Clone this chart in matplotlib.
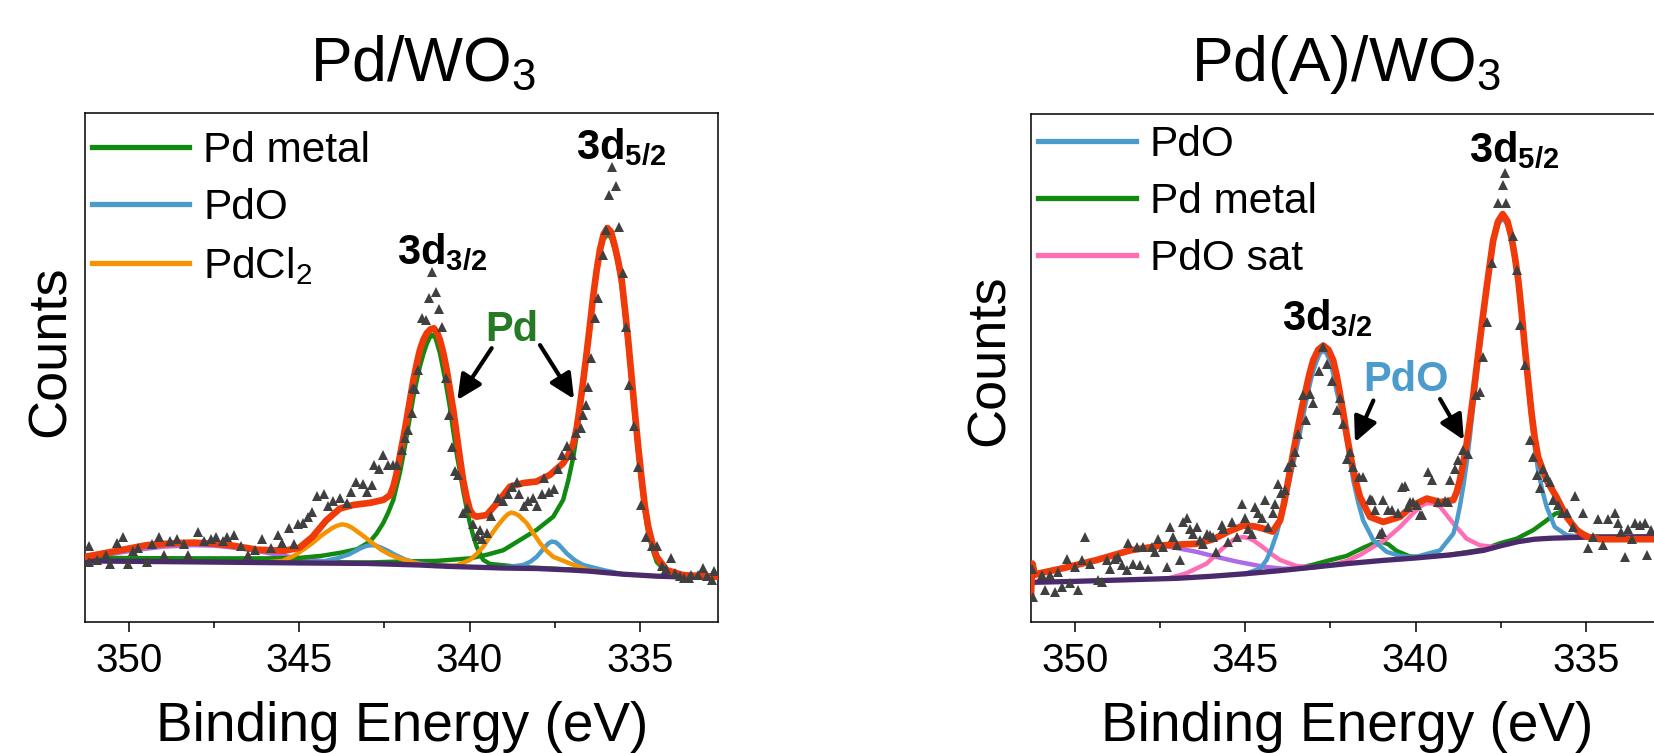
"""
Pd 3d XPS spectra of Pd/WO3 and Pd(A)/WO3 with their fitted components.
"""
import matplotlib.pyplot as plt
from matplotlib.lines import Line2D
from matplotlib.ticker import MultipleLocator

plt.rcParams["font.family"] = ["Liberation Sans", "DejaVu Sans"]
plt.rcParams["mathtext.fontset"] = "custom"
plt.rcParams["mathtext.rm"] = "Liberation Sans"
plt.rcParams["mathtext.it"] = "Liberation Sans:italic"
plt.rcParams["mathtext.bf"] = "Liberation Sans:bold"

# Binding energy in eV, counts in arbitrary units (0-100 = axis height)

########## Pd/WO3 ##########
L_DATA_X = [351.17, 351.19, 350.96, 350.69, 350.56, 350.36, 350.18, 350.05, 349.88, 349.75,
            349.48, 349.34, 349.14, 348.97, 348.80, 348.60, 348.40, 348.26, 347.99, 347.79,
            347.59, 347.45, 347.25, 347.12, 346.91, 346.71, 346.51, 346.31, 346.10, 345.83,
            345.63, 345.50, 345.30, 345.16, 345.03, 344.89, 344.75, 344.62, 344.48, 344.28,
            344.15, 344.01, 343.81, 343.61, 343.47, 343.34, 343.13, 343.00, 342.86, 342.80,
            342.66, 342.53, 342.39, 342.26, 342.12, 342.00, 341.90, 341.80, 341.70, 341.65,
            341.59, 341.51, 341.39, 341.29, 341.20, 341.10, 341.00, 340.90, 340.80, 340.69,
            340.60, 340.53, 340.44, 340.33, 340.19, 340.09, 339.90, 339.79, 339.69, 339.63,
            339.49, 339.36, 339.16, 339.02, 338.88, 338.75, 338.61, 338.55, 338.41, 338.28,
            338.14, 338.01, 337.87, 337.80, 337.67, 337.53, 337.40, 337.27, 337.13, 337.00,
            336.86, 336.72, 336.66, 336.59, 336.52, 336.42, 336.32, 336.22, 336.09, 336.00,
            335.90, 335.80, 335.70, 335.62, 335.50, 335.40, 335.31, 335.17, 335.04, 334.97,
            334.83, 334.63, 334.50, 334.36, 334.23, 334.09, 333.96, 333.82, 333.69, 333.55,
            333.49, 333.28, 333.15, 333.01, 332.88, 332.81]
L_DATA_Y = [14.9, 11.8, 12.1, 13.2, 11.4, 15.6, 16.7, 11.4, 13.9, 14.6,
            11.8, 15.3, 16.7, 13.2, 16.0, 16.3, 15.3, 13.2, 17.7, 16.0,
            16.3, 16.7, 16.0, 16.7, 17.0, 14.9, 13.2, 14.2, 16.3, 14.6,
            17.0, 15.6, 18.5, 15.3, 19.2, 19.5, 20.6, 21.6, 24.8, 25.1,
            22.7, 23.7, 24.4, 23.4, 25.5, 27.6, 27.2, 25.5, 26.9, 30.8,
            30.0, 32.9, 30.8, 30.8, 30.8, 33.8, 36.1, 37.7, 41.0, 45.9,
            45.7, 49.6, 59.7, 59.3, 63.7, 68.7, 64.9, 61.4, 58.0, 47.9,
            40.7, 34.4, 29.7, 28.9, 21.4, 22.3, 19.2, 16.8, 18.1, 16.3,
            17.4, 20.9, 24.4, 23.7, 25.1, 26.5, 27.6, 25.1, 22.7, 23.7,
            24.4, 22.7, 25.1, 28.3, 25.5, 26.2, 30.0, 32.9, 34.6, 32.9,
            37.1, 38.1, 40.6, 42.7, 46.1, 51.8, 59.7, 63.6, 72.1, 77.0,
            83.9, 89.4, 85.7, 77.7, 68.5, 58.0, 46.6, 38.5, 30.4, 23.0,
            16.7, 14.9, 14.9, 11.1, 10.4, 12.5, 9.7, 9.0, 8.6, 8.6,
            9.3, 9.3, 10.7, 9.0, 8.3, 10.0]

L_FIT_X = [351.3, 350.42, 349.48, 348.6, 348.13, 347.5, 347.05, 346.24, 345.43, 345.0,
           344.62, 344.22, 343.81, 343.41, 342.93, 342.53, 342.34, 342.24, 342.15, 342.05,
           341.95, 341.85, 341.75, 341.65, 341.55, 341.46, 341.36, 341.26, 341.15, 341.05,
           340.95, 340.87, 340.77, 340.67, 340.58, 340.48, 340.40, 340.33, 340.26, 340.19,
           340.09, 339.99, 339.89, 339.79, 339.5, 339.2, 338.81, 338.42, 338.03, 337.64,
           337.25, 337.1, 336.95, 336.85, 336.76, 336.66, 336.56, 336.46, 336.37, 336.27,
           336.17, 336.06, 335.95, 335.84, 335.73, 335.63, 335.53, 335.44, 335.34, 335.24,
           335.14, 335.04, 334.94, 334.85, 334.75, 334.62, 334.5, 334.21, 333.72, 332.7]
L_FIT_Y = [12.8, 13.9, 15.1, 15.5, 15.6, 15.4, 15.1, 14.2, 14.0, 14.6,
           16.7, 19.9, 22.3, 23.0, 23.4, 24.0, 24.9, 26.6, 29.0, 32.5,
           36.0, 39.7, 43.7, 47.6, 50.8, 53.4, 55.4, 56.7, 57.5, 57.7,
           56.8, 55.4, 52.8, 49.5, 45.8, 41.7, 37.9, 34.4, 31.1, 27.9,
           24.6, 22.0, 21.0, 20.7, 21.0, 23.3, 26.6, 27.3, 27.6, 28.9,
           31.2, 32.8, 35.1, 38.2, 42.3, 47.4, 52.8, 58.5, 63.9, 68.9,
           73.1, 76.2, 77.4, 76.6, 73.8, 70.8, 67.2, 61.8, 55.4, 48.2,
           41.0, 34.1, 27.9, 22.8, 18.7, 15.2, 12.8, 10.2, 9.2, 8.9]

L_BG_X = [351.3, 348.0, 345.0, 343.0, 341.5, 340.5, 339.0, 338.0, 337.0, 336.5,
          336.0, 335.5, 335.0, 334.5, 334.0, 332.7]
L_BG_Y = [12.0, 11.8, 11.6, 11.5, 11.2, 10.9, 10.6, 10.5, 10.2, 10.0,
          9.7, 9.4, 9.2, 9.0, 8.9, 8.9]

L_SAT_X = [351.3, 350.5, 349.75, 349.0, 348.13, 347.5, 346.78, 346.2, 345.71, 345.02,
           344.35, 343.8, 343.2]
L_SAT_Y = [12.5, 13.4, 14.2, 14.8, 15.1, 15.0, 14.5, 13.9, 13.3, 12.5,
           12.0, 11.7, 11.5]

L_METAL32_X = [351.3, 348.0, 346.0, 345.0, 344.35, 343.8, 343.3, 342.93, 342.74, 342.54,
               342.39, 342.24, 342.15, 342.05, 341.95, 341.85, 341.75, 341.65, 341.55, 341.46,
               341.36, 341.26, 341.18, 341.1, 341.0, 340.87, 340.72, 340.58, 340.48, 340.38,
               340.28, 340.19, 340.09, 339.99, 339.89, 339.79, 339.6, 339.4, 338.5, 337.0,
               336.0]
L_METAL32_Y = [12.6, 12.5, 12.5, 12.6, 13.0, 13.6, 14.3, 15.8, 17.3, 19.4,
               21.5, 24.0, 26.5, 29.2, 32.7, 36.4, 40.4, 44.3, 47.5, 50.2,
               52.6, 54.6, 55.8, 56.4, 55.8, 52.8, 47.8, 42.3, 37.6, 33.1,
               29.4, 25.9, 22.5, 19.4, 16.9, 14.8, 12.2, 11.4, 10.8, 10.3,
               9.8]

L_METAL52_X = [351.3, 347.0, 344.0, 342.93, 341.95, 340.97, 339.99, 339.5, 339.01, 338.52,
               338.03, 337.54, 337.25, 337.1, 336.95, 336.85, 336.76, 336.66, 336.56, 336.46,
               336.37, 336.27, 336.17, 336.06, 335.95, 335.84, 335.73, 335.63, 335.53, 335.44,
               335.34, 335.24, 335.14, 335.04, 334.94, 334.85, 334.75, 334.62, 334.5, 334.21,
               333.8, 332.7]
L_METAL52_Y = [12.1, 11.9, 11.7, 11.7, 11.9, 12.0, 12.5, 13.2, 14.1, 16.1,
               18.1, 20.7, 24.0, 27.8, 32.5, 36.8, 41.3, 46.6, 51.9, 57.8,
               63.3, 68.3, 72.4, 75.2, 76.2, 75.5, 73.1, 70.0, 66.0, 60.5,
               54.1, 46.9, 39.7, 32.8, 26.6, 21.6, 17.5, 14.2, 11.8, 9.8,
               9.0, 8.9]

L_PDO32_X = [345.0, 344.3, 343.9, 343.54, 343.2, 343.05, 342.9, 342.75, 342.6, 342.4,
             342.19, 341.9, 341.65, 341.2, 340.5]
L_PDO32_Y = [11.6, 11.9, 12.5, 13.3, 14.5, 14.9, 15.1, 15.0, 14.6, 14.0,
             13.2, 12.3, 11.8, 11.2, 10.9]

L_PDO52_X = [339.5, 339.0, 338.42, 338.2, 338.03, 337.9, 337.8, 337.69, 337.59, 337.48,
             337.38, 337.27, 337.15, 336.9, 336.66, 336.07, 335.5]
L_PDO52_Y = [10.7, 10.7, 11.2, 11.9, 12.8, 13.8, 14.6, 15.4, 15.8, 15.7,
             15.2, 14.4, 13.5, 12.1, 11.2, 10.2, 9.4]

L_CL32_X = [346.0, 345.5, 345.16, 344.89, 344.6, 344.35, 344.05, 343.9, 343.74, 343.6,
            343.45, 343.14, 342.87, 342.6, 342.33, 342.06, 341.7, 341.4, 340.5]
L_CL32_Y = [11.7, 12.0, 13.0, 14.2, 15.6, 17.0, 18.4, 18.9, 19.2, 19.0,
            18.5, 17.0, 15.6, 14.2, 13.2, 12.5, 11.8, 11.3, 10.9]

L_CL52_X = [341.0, 340.38, 339.99, 339.8, 339.6, 339.4, 339.2, 338.98, 338.87, 338.77,
            338.66, 338.55, 338.32, 338.12, 337.93, 337.74, 337.54, 337.05, 336.56, 336.0]
L_CL52_Y = [11.0, 11.1, 12.2, 13.3, 14.8, 16.8, 18.7, 20.5, 21.2, 21.5,
            21.3, 20.9, 19.4, 17.4, 15.5, 14.0, 12.8, 11.5, 10.3, 9.7]

########## Pd(A)/WO3 ##########
R_DATA_X = [351.28, 351.23, 350.99, 350.89, 350.74, 350.59, 350.50, 350.40, 350.25, 350.15,
            350.01, 349.91, 349.81, 349.71, 349.57, 349.32, 349.22, 349.08, 348.98, 348.83,
            348.73, 348.64, 348.49, 348.44, 348.29, 348.20, 348.10, 348.00, 347.85, 347.75,
            347.66, 347.56, 347.41, 347.31, 347.22, 347.12, 347.02, 346.92, 346.83, 346.73,
            346.63, 346.53, 346.43, 346.33, 346.24, 346.14, 346.04, 345.94, 345.85, 345.70,
            345.65, 345.50, 345.40, 345.26, 345.11, 345.01, 344.91, 344.82, 344.72, 344.62,
            344.52, 344.42, 344.33, 344.18, 344.13, 344.03, 343.94, 343.84, 343.74, 343.64,
            343.55, 343.45, 343.30, 343.22, 343.10, 343.01, 342.83, 342.73, 342.61, 342.47,
            342.32, 342.22, 342.12, 342.01, 341.93, 341.83, 341.65, 341.54, 341.34, 341.29,
            341.19, 341.05, 341.00, 340.95, 340.80, 340.70, 340.51, 340.41, 340.31, 340.21,
            340.17, 340.07, 339.97, 339.87, 339.82, 339.63, 339.53, 339.33, 339.14, 339.04,
            338.99, 338.84, 338.75, 338.60, 338.45, 338.21, 338.11, 338.01, 337.91, 337.74,
            337.59, 337.37, 337.44, 337.33, 337.13, 337.03, 336.93, 336.79, 336.64, 336.54,
            336.44, 336.35, 336.25, 336.15, 336.05, 335.95, 335.81, 335.71, 335.56, 335.37,
            335.32, 335.07, 334.93, 334.78, 334.63, 334.49, 334.34, 334.14, 334.04, 333.95,
            333.85, 333.75, 333.65, 333.56, 333.41, 333.26, 333.21, 333.07]
R_DATA_Y = [10.5, 5.0, 9.2, 6.3, 9.2, 5.9, 9.9, 6.9, 12.5, 7.6,
            10.9, 6.3, 12.2, 16.8, 11.5, 8.3, 7.9, 12.2, 10.5, 12.5,
            12.8, 11.2, 10.2, 15.5, 11.5, 14.8, 11.2, 14.8, 10.5, 14.8,
            13.8, 16.4, 14.8, 10.9, 18.7, 16.8, 15.1, 12.2, 19.7, 20.4,
            18.4, 17.4, 18.7, 16.1, 15.4, 17.4, 17.1, 16.8, 13.8, 19.1,
            18.4, 15.8, 19.7, 16.8, 23.3, 20.4, 18.4, 17.4, 22.7, 21.4,
            20.4, 24.0, 18.7, 21.4, 23.3, 27.2, 25.3, 25.9, 30.5, 31.5,
            33.5, 37.1, 44.6, 39.8, 44.9, 43.1, 49.5, 54.2, 50.8, 47.5,
            41.7, 44.1, 39.0, 32.0, 33.5, 30.6, 28.6, 28.6, 24.3, 24.1,
            22.0, 17.4, 17.7, 24.0, 22.0, 22.0, 21.4, 26.6, 26.7, 22.7,
            23.6, 23.6, 23.0, 21.0, 21.0, 29.5, 27.9, 23.6, 23.8, 23.6,
            27.9, 30.2, 31.8, 33.9, 33.1, 44.6, 45.3, 52.1, 59.0, 70.6,
            82.4, 88.4, 86.1, 82.4, 76.0, 69.2, 58.5, 50.5, 35.8, 32.5,
            28.9, 26.3, 30.2, 28.6, 27.6, 24.0, 23.0, 21.4, 21.4, 18.7,
            24.9, 21.4, 14.5, 16.8, 20.3, 15.1, 20.3, 21.4, 19.4, 17.7,
            12.8, 18.4, 16.4, 19.4, 19.0, 19.4, 13.2, 18.1]

R_FIT_X = [351.3, 351.26, 351.18, 351.04, 350.35, 349.37, 348.39, 347.41, 346.43, 345.94,
           345.5, 345.06, 344.72, 344.48, 344.2, 343.98, 343.86, 343.74, 343.62, 343.49,
           343.37, 343.25, 343.13, 343.01, 342.86, 342.71, 342.56, 342.42, 342.32, 342.22,
           342.12, 342.03, 341.93, 341.83, 341.73, 341.63, 341.34, 340.95, 340.46, 340.07,
           339.67, 339.28, 338.89, 338.79, 338.70, 338.60, 338.50, 338.40, 338.31, 338.21,
           338.11, 338.01, 337.91, 337.81, 337.72, 337.58, 337.44, 337.30, 337.18, 337.08,
           336.98, 336.88, 336.79, 336.69, 336.59, 336.50, 336.40, 336.15, 335.86, 335.56,
           335.27, 334.97, 334.58, 332.7]
R_FIT_Y = [5.5, 11.5, 9.3, 9.6, 10.6, 12.2, 14.1, 15.1, 15.4, 16.3,
           17.8, 19.0, 18.8, 18.4, 17.8, 20.0, 23.5, 27.9, 32.4, 37.1,
           41.2, 44.9, 48.5, 51.5, 53.6, 54.4, 53.6, 51.5, 48.6, 44.9,
           41.0, 37.1, 33.4, 29.9, 27.0, 24.6, 20.7, 19.7, 20.7, 23.0,
           24.3, 23.6, 24.0, 25.6, 27.9, 31.2, 35.1, 39.6, 44.3, 49.9,
           55.4, 60.8, 65.9, 70.8, 75.1, 78.8, 80.3, 78.9, 75.7, 71.8,
           67.2, 60.7, 54.1, 47.4, 41.0, 36.3, 32.5, 27.9, 24.6, 20.7,
           18.1, 16.8, 16.3, 16.3]

R_BG_X = [351.3, 350.0, 348.5, 347.0, 346.0, 345.0, 344.0, 343.0, 342.0, 341.0,
          340.0, 339.0, 338.5, 338.0, 337.5, 337.0, 336.5, 336.0, 335.0, 332.7]
R_BG_Y = [7.8, 8.0, 8.3, 8.6, 9.0, 9.5, 10.1, 10.8, 11.5, 12.1,
          12.6, 13.2, 13.6, 14.1, 15.0, 15.8, 16.3, 16.5, 16.7, 16.8]

R_SAT_X = [351.3, 351.0, 350.5, 350.0, 349.5, 349.0, 348.5, 348.0, 347.5, 347.22,
           346.9, 346.43, 345.84, 345.26, 344.48, 343.9, 343.4, 342.8]
R_SAT_Y = [9.0, 9.6, 10.4, 11.2, 12.0, 12.9, 13.8, 14.5, 14.9, 14.8,
           14.4, 13.8, 12.8, 11.9, 10.9, 10.5, 10.5, 10.9]

R_PDOSAT32_X = [347.2, 346.73, 346.14, 345.84, 345.65, 345.35, 345.2, 345.04, 344.9, 344.75,
                344.48, 344.2, 343.98, 343.49, 343.0]
R_PDOSAT32_Y = [8.7, 9.6, 11.5, 13.4, 14.6, 16.2, 16.6, 16.7, 16.5, 16.0,
                14.7, 13.2, 12.2, 11.0, 10.8]

R_PDOSAT52_X = [342.5, 342.03, 341.63, 341.24, 340.85, 340.46, 340.07, 339.85, 339.67, 339.48,
                339.28, 338.89, 338.5, 338.11, 337.72, 337.3]
R_PDOSAT52_Y = [11.2, 12.0, 13.2, 14.8, 16.4, 18.7, 21.4, 22.8, 23.4, 23.3,
                22.7, 19.4, 16.4, 15.1, 14.8, 15.3]

R_PDO32_X = [345.0, 344.57, 344.38, 344.23, 344.08, 343.94, 343.79, 343.60, 343.40, 343.25,
             343.10, 343.00, 342.90, 342.81, 342.71, 342.62, 342.52, 342.42, 342.32, 342.22,
             342.12, 341.97, 341.83, 341.68, 341.54, 341.24, 340.85, 340.46, 340.0]
R_PDO32_Y = [9.5, 10.5, 12.2, 14.5, 17.4, 21.0, 25.3, 31.0, 37.1, 42.4,
             47.0, 49.6, 51.5, 52.9, 53.4, 52.9, 51.5, 48.9, 45.5, 42.7,
             39.7, 33.6, 27.9, 23.4, 20.0, 16.1, 13.8, 13.0, 12.7]

R_PDO52_X = [340.5, 340.0, 339.67, 339.28, 338.89, 338.79, 338.70, 338.60, 338.50, 338.40,
             338.31, 338.21, 338.11, 338.01, 337.91, 337.81, 337.72, 337.58, 337.44, 337.30,
             337.18, 337.08, 336.98, 336.88, 336.79, 336.69, 336.59, 336.50, 336.40, 336.28,
             336.15, 335.91, 335.56, 335.0, 332.7]
R_PDO52_Y = [12.6, 12.8, 13.4, 14.1, 17.4, 19.8, 22.7, 26.6, 31.2, 36.7,
             42.3, 48.2, 54.1, 59.9, 65.3, 70.2, 74.4, 78.2, 79.6, 78.2,
             75.1, 71.0, 66.5, 60.0, 53.4, 46.4, 39.7, 34.4, 29.9, 26.0,
             22.7, 18.7, 17.1, 16.7, 16.8]

R_METAL32_X = [343.5, 343.0, 342.5, 342.03, 341.54, 341.2, 341.0, 340.8, 340.56, 340.17, 339.8, 339.3]
R_METAL32_Y = [10.5, 11.3, 12.2, 13.0, 14.6, 15.6, 15.8, 15.3, 14.0, 12.9, 12.8, 13.1]

R_METAL52_X = [339.0, 338.0, 337.52, 337.03, 336.54, 336.15, 335.9, 335.71, 335.46, 335.17, 334.87, 334.0]
R_METAL52_Y = [13.2, 14.3, 15.5, 16.4, 18.1, 20.0, 21.3, 21.7, 20.0, 17.7, 16.8, 16.8]

# colours
GREEN = "#108a10"
BLUE = "#4b9ccd"
ORANGE = "#f59300"
PINK = "#ff6eb4"
LILAC = "#ad6ce6"
RED = "#f03a0a"
BACKGROUND = "#4a2a6a"
MARKER = "#404040"


def draw_panel(ax, points, fit, background, components):
    """
    Draw the measured points, the fitted components, the background and the envelope.
    """
    for xs, ys, color in components:
        ax.plot(xs, ys, color=color, lw=3.2, zorder=2, solid_joinstyle="round")
    ax.plot(background[0], background[1], color=BACKGROUND, lw=3.8, zorder=3)
    ax.plot(fit[0], fit[1], color=RED, lw=4.8, zorder=4, solid_joinstyle="round")
    ax.plot(points[0], points[1], ls="none", marker="^", ms=7, color=MARKER,
            markeredgewidth=0, zorder=5)

    ax.set_xlim(351.3, 332.7)
    ax.set_ylim(0, 100)
    ax.set_yticks([])
    ax.set_xticks([350, 345, 340, 335])
    ax.xaxis.set_minor_locator(MultipleLocator(2.5))
    ax.tick_params(axis="x", which="major", direction="out", length=7.2, width=1.1,
                   labelsize=29, pad=7)
    ax.tick_params(axis="x", which="minor", direction="out", length=4.3, width=1.1)
    for spine in ax.spines.values():
        spine.set_linewidth(1.1)


def add_legend(ax, entries, anchor):
    """
    Legend with thick coloured lines and no frame.
    """
    handles = [Line2D([0], [0], color=c, lw=3.8) for _, c in entries]
    labels = [name for name, _ in entries]
    ax.legend(handles, labels, loc="upper left", bbox_to_anchor=anchor, frameon=False,
              fontsize=30.5, handlelength=2.3, handletextpad=0.33, labelspacing=0.4,
              borderpad=0, borderaxespad=0)


def add_arrow(ax, start, end):
    ax.annotate("", xy=end, xytext=start, zorder=6,
                arrowprops=dict(arrowstyle="-|>,head_length=0.5,head_width=0.24",
                                lw=3.0, color="black", mutation_scale=30,
                                shrinkA=0, shrinkB=0))


fig = plt.figure(figsize=(16.54, 7.53), dpi=100)
ax_l = fig.add_axes([85 / 1654, 131 / 753, 633 / 1654, 509 / 753])
ax_r = fig.add_axes([1031 / 1654, 131 / 753, 633 / 1654, 508 / 753])

draw_panel(
    ax_l,
    (L_DATA_X, L_DATA_Y),
    (L_FIT_X, L_FIT_Y),
    (L_BG_X, L_BG_Y),
    [
        (L_SAT_X, L_SAT_Y, LILAC),
        (L_METAL32_X, L_METAL32_Y, GREEN),
        (L_METAL52_X, L_METAL52_Y, GREEN),
        (L_PDO32_X, L_PDO32_Y, BLUE),
        (L_PDO52_X, L_PDO52_Y, BLUE),
        (L_CL32_X, L_CL32_Y, ORANGE),
        (L_CL52_X, L_CL52_Y, ORANGE),
    ],
)
draw_panel(
    ax_r,
    (R_DATA_X, R_DATA_Y),
    (R_FIT_X, R_FIT_Y),
    (R_BG_X, R_BG_Y),
    [
        (R_SAT_X, R_SAT_Y, LILAC),
        (R_METAL32_X, R_METAL32_Y, GREEN),
        (R_METAL52_X, R_METAL52_Y, GREEN),
        (R_PDOSAT32_X, R_PDOSAT32_Y, PINK),
        (R_PDOSAT52_X, R_PDOSAT52_Y, PINK),
        (R_PDO32_X, R_PDO32_Y, BLUE),
        (R_PDO52_X, R_PDO52_Y, BLUE),
    ],
)

add_legend(ax_l, [("Pd metal", GREEN), ("PdO", BLUE), (r"PdCl$\mathregular{_2}$", ORANGE)],
           (0.0106, 0.965))
add_legend(ax_r, [("PdO", BLUE), ("Pd metal", GREEN), ("PdO sat", PINK)],
           (0.0115, 0.978))

# peak labels
bold = dict(fontsize=30, ha="center", va="center", zorder=7)
ax_l.text(340.80, 72.5, r"$\mathbf{3d_{3/2}}$", **bold)
ax_l.text(335.56, 93.3, r"$\mathbf{3d_{5/2}}$", **bold)
ax_l.text(338.76, 57.4, "Pd", color="#267a26", fontweight="bold", **bold)
add_arrow(ax_l, (339.35, 53.8), (340.36, 43.6))
add_arrow(ax_l, (337.93, 54.4), (336.93, 43.8))

ax_r.text(342.59, 59.7, r"$\mathbf{3d_{3/2}}$", **bold)
ax_r.text(337.11, 92.9, r"$\mathbf{3d_{5/2}}$", **bold)
ax_r.text(340.27, 47.6, "PdO", color=BLUE, fontweight="bold", **bold)
add_arrow(ax_r, (341.24, 43.6), (341.78, 35.4))
add_arrow(ax_r, (339.28, 43.9), (338.58, 35.8))

# titles and axis labels
fig.text(423 / 1654, 1 - 81 / 753, r"Pd/WO$\mathregular{_3}$", fontsize=45, ha="center",
         va="baseline")
fig.text(1346 / 1654, 1 - 81 / 753, r"Pd(A)/WO$\mathregular{_3}$", fontsize=45, ha="center",
         va="baseline")
fig.text(402 / 1654, 1 - 741 / 753, "Binding Energy (eV)", fontsize=39.6, ha="center",
         va="baseline")
fig.text(1347 / 1654, 1 - 741 / 753, "Binding Energy (eV)", fontsize=39.6, ha="center",
         va="baseline")
fig.text(51 / 1654, 1 - 351 / 753, "Counts", fontsize=39, rotation=90, ha="center",
         va="center")
fig.text(990 / 1654, 1 - 360 / 753, "Counts", fontsize=39, rotation=90, ha="center",
         va="center")

fig.savefig("out.png", dpi=100)
